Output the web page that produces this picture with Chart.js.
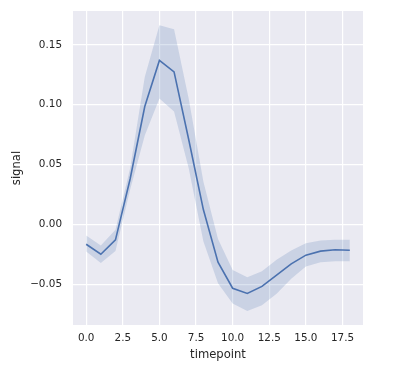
<!DOCTYPE html>
<html>
<head>
<meta charset="utf-8">
<script src="https://cdn.jsdelivr.net/npm/chart.js@4/dist/chart.umd.min.js"></script>
<style>
html,body{margin:0;padding:0;background:#fff;}
#wrap{width:398px;height:368px;position:relative;}
</style>
</head>
<body>
<div id="wrap"><canvas id="c" width="398" height="368"></canvas></div>
<script>
const timepoints = [0,1,2,3,4,5,6,7,8,9,10,11,12,13,14,15,16,17,18];
const signalMean = [-0.0165,-0.0248,-0.0128,0.038,0.0985,0.137,0.1275,0.071,0.0125,-0.0315,-0.0532,-0.0575,-0.0517,-0.0422,-0.0328,-0.0256,-0.0222,-0.0211,-0.0215];
const ciUpper   = [-0.0092,-0.0175,-0.0044,0.047,0.1231,0.1664,0.1631,0.105,0.036,-0.012,-0.038,-0.044,-0.039,-0.0294,-0.0217,-0.0156,-0.0133,-0.0128,-0.0128];
const ciLower   = [-0.0225,-0.0322,-0.0222,0.029,0.0744,0.1053,0.0944,0.047,-0.014,-0.049,-0.066,-0.0722,-0.0675,-0.0578,-0.0453,-0.035,-0.0314,-0.0306,-0.0306];
const xTicks = [0,2.5,5,7.5,10,12.5,15,17.5];
const yTicks = [-0.05,0,0.05,0.10,0.15];
const xLabel = 'timepoint';
const yLabel = 'signal';

const pts = arr => timepoints.map((t,i)=>({x:t,y:arr[i]}));
const FONT = "'DejaVu Sans', sans-serif";
const TXT = '#262626';
const BLUE = '#4C72B0';
const BAND = 'rgba(76,114,176,0.2)';

const bgPlugin = {
  id:'bg',
  beforeDraw(chart){
    const {ctx, chartArea:a} = chart;
    ctx.save();
    ctx.fillStyle = '#EAEAF2';
    ctx.fillRect(a.left, a.top, a.right-a.left, a.bottom-a.top);
    ctx.restore();
  }
};

function noPad(s){ s.paddingTop=0; s.paddingBottom=0; s.paddingLeft=0; s.paddingRight=0; }

new Chart(document.getElementById('c'), {
  type:'line',
  data:{
    datasets:[
      {data:pts(ciUpper), borderWidth:0, pointRadius:0, fill:'+1', backgroundColor:BAND, borderColor:'rgba(0,0,0,0)', tension:0},
      {data:pts(ciLower), borderWidth:0, pointRadius:0, fill:false, borderColor:'rgba(0,0,0,0)', tension:0},
      {data:pts(signalMean), borderWidth:1.6, pointRadius:0, fill:false, borderColor:BLUE, tension:0}
    ]
  },
  options:{
    responsive:false,
    animation:false,
    devicePixelRatio:1,
    layout:{padding:{top:11,right:35,left:0,bottom:0}},
    plugins:{legend:{display:false}, tooltip:{enabled:false}},
    scales:{
      x:{
        type:'linear', min:-0.9, max:18.9,
        afterBuildTicks(s){ s.ticks = xTicks.map(v=>({value:v})); },
        afterFit(s){ s.height = 43; noPad(s); },
        grid:{color:'#ffffff', lineWidth:1.2, drawTicks:false},
        border:{display:false},
        ticks:{padding:7, color:TXT, font:{family:FONT, size:10.4}, maxRotation:0,
          callback:v=>v.toFixed(1)},
        title:{display:true, text:xLabel, color:TXT, font:{family:FONT, size:11.6}, padding:6}
      },
      y:{
        type:'linear', min:-0.0839, max:0.1783,
        afterBuildTicks(s){ s.ticks = yTicks.map(v=>({value:v})); },
        afterFit(s){ s.width = 73; noPad(s); },
        grid:{color:'#ffffff', lineWidth:1.2, drawTicks:false},
        border:{display:false},
        ticks:{padding:11, color:TXT, font:{family:FONT, size:10.4},
          callback:v=>v.toFixed(2).replace('-','\u2212')},
        title:{display:true, text:yLabel, color:TXT, font:{family:FONT, size:11.6}, padding:10}
      }
    }
  },
  plugins:[bgPlugin]
});
</script>
</body>
</html>
